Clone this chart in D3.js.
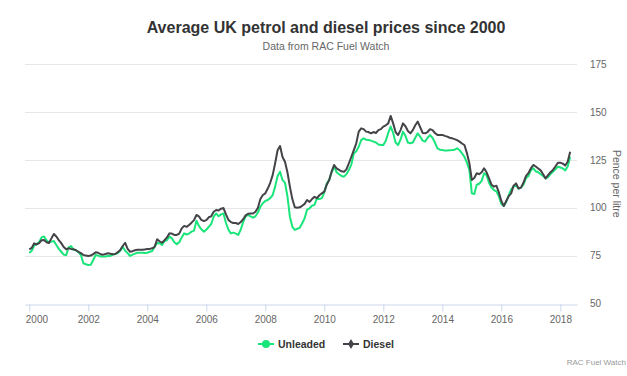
<!DOCTYPE html>
<html>
<head>
<meta charset="utf-8">
<script src="https://cdn.jsdelivr.net/npm/d3@7"></script>
<style>
  body { margin: 0; background: #fff; }
  svg { font-family: "Liberation Sans", Arial, Helvetica, sans-serif; display: block; }
</style>
</head>
<body>
<div id="chart"></div>
<script>
// Monthly averages, pence per litre, Jan 2000 - May 2018
var startYear = 2000;
var unleaded = [
  76.4, 77.5, 80.2, 81.0, 82.0, 84.5, 85.0, 83.0, 81.8, 82.3, 82.6, 80.5,
  78.5, 77.0, 75.5, 75.2, 79.3, 80.0, 78.0, 77.8, 76.8, 75.3, 71.0, 70.5,
  70.1, 70.2, 72.7, 75.3, 75.0, 74.5, 74.5, 74.5, 74.8, 74.8, 75.5, 75.8,
  76.3, 77.5, 79.6, 77.5, 76.3, 74.8, 75.5, 76.0, 76.5, 76.5, 76.5, 76.4,
  76.5, 77.0, 77.4, 79.6, 81.6, 81.5, 80.5, 82.6, 83.0, 84.9, 84.0, 82.0,
  81.0, 82.0, 84.5, 86.6, 86.0, 86.5, 87.5, 88.0, 93.2, 90.5, 88.7, 87.5,
  88.5, 90.0, 91.5, 95.3, 97.0, 95.5, 96.5, 97.0, 92.0, 88.5, 86.6, 87.0,
  86.5, 85.8, 88.5, 92.5, 95.5, 96.2, 95.5, 94.8, 95.5, 97.5, 100.5, 102.3,
  103.5, 104.0, 105.0, 106.6, 111.0, 116.5, 118.8, 114.5, 113.0, 106.0, 95.3, 90.0,
  88.4, 89.0, 89.5, 91.9, 94.5, 99.0, 99.7, 101.0, 101.5, 104.9, 104.5, 105.0,
  108.0, 112.7, 114.5, 118.5, 121.4, 118.5, 117.5, 116.5, 116.2, 117.5, 119.7, 122.5,
  128.3, 129.5, 131.8, 135.3, 136.2, 135.5, 135.3, 135.0, 134.5, 134.0, 133.0, 132.7,
  132.7, 135.0, 139.0, 142.3, 139.0, 134.0, 132.7, 135.5, 139.7, 137.5, 134.0, 133.6,
  134.0, 136.5, 138.8, 137.0, 135.0, 134.5, 136.5, 137.9, 136.5, 134.0, 131.0, 130.3,
  130.1, 129.8, 129.8, 130.0, 130.1, 130.3, 131.0, 130.0, 128.4, 126.5, 123.5, 119.7,
  107.5, 107.1, 112.0, 112.5, 114.0, 118.0, 117.0, 113.0, 110.5, 109.2, 108.5, 106.0,
  102.0, 100.9, 103.0, 106.5, 109.5, 111.0, 111.5, 110.0, 110.5, 112.0, 115.3, 116.5,
  119.5, 120.6, 119.0, 118.5, 117.5, 116.5, 115.3, 116.0, 117.5, 118.8, 120.0, 121.4,
  121.0, 120.5, 119.5, 121.5, 126.6
];
var diesel = [
  78.3, 79.0, 81.4, 80.8, 81.5, 83.0, 83.1, 82.0, 81.6, 84.0, 86.3, 85.0,
  83.1, 81.5, 79.5, 78.3, 78.8, 78.5, 78.3, 77.8, 77.0, 76.3, 75.3, 75.0,
  74.8, 75.0, 75.8, 76.7, 76.5, 75.7, 75.5, 75.8, 76.2, 76.0, 75.7, 75.8,
  76.8, 77.9, 80.0, 81.7, 78.5, 77.0, 77.3, 77.8, 78.0, 78.0, 78.0, 78.2,
  78.4, 78.5, 78.8, 79.6, 83.5, 82.5, 81.7, 83.0, 84.5, 86.6, 86.5, 85.8,
  85.8, 86.5, 89.2, 90.5, 90.0, 91.0, 92.2, 93.5, 96.2, 95.5, 93.6, 93.0,
  93.5, 95.0, 95.5, 97.9, 98.8, 98.5, 99.5, 99.8, 96.5, 93.6, 92.5, 92.0,
  92.0, 91.5, 92.5, 94.0, 96.0, 96.8, 97.0, 97.0, 97.9, 100.0, 104.5, 106.6,
  107.5, 110.0, 113.0, 117.0, 123.2, 130.0, 132.2, 126.5, 124.0, 118.5, 111.0, 104.5,
  100.2, 100.0, 100.2, 101.0, 102.0, 104.0, 103.0, 104.5, 105.7, 105.0, 106.5, 107.5,
  108.4, 112.0, 114.5, 119.0, 122.3, 120.5, 119.7, 119.0, 118.8, 120.0, 123.2, 126.6,
  130.0, 133.6, 139.7, 141.4, 141.0, 139.7, 139.5, 138.8, 139.5, 139.0, 140.5, 141.0,
  142.3, 143.0, 144.0, 147.9, 144.0, 139.5, 137.9, 140.5, 144.0, 142.5, 140.0, 138.8,
  140.5, 143.0, 144.9, 142.0, 139.0, 138.8, 139.5, 141.0, 140.5, 139.0, 138.0, 137.9,
  138.0, 137.5, 137.1, 136.5, 136.2, 135.8, 135.3, 134.5, 133.5, 132.7, 128.5, 123.2,
  114.5, 115.5, 118.0, 117.5, 118.5, 120.6, 118.5, 115.3, 112.0, 111.0, 111.5, 108.0,
  103.5, 100.9, 103.5, 106.0, 107.5, 111.5, 112.7, 110.0, 110.5, 113.0, 116.5, 118.0,
  120.5, 122.3, 121.5, 120.5, 119.5, 117.5, 115.3, 117.0, 118.5, 119.7, 121.5, 123.5,
  123.5, 123.0, 122.0, 124.0, 129.2
];
var yTicks = [50, 75, 100, 125, 150, 175];
var xTicks = [2000, 2002, 2004, 2006, 2008, 2010, 2012, 2014, 2016, 2018];

var W = 627, H = 376;
var plot = {left: 25, right: 577, top: 64, bottom: 303.5};

var svg = d3.select("#chart").append("svg")
  .attr("width", W).attr("height", H);

// decimal year of each monthly point
function monthYear(i) { return startYear + i / 12; }

var x = d3.scaleLinear()
  .domain([1999.855, 2018.565])
  .range([plot.left, plot.right]);
var y = d3.scaleLinear()
  .domain([50, 175])
  .range([plot.bottom, plot.top]);

// title + subtitle
svg.append("text")
  .attr("x", 326).attr("y", 33)
  .attr("text-anchor", "middle")
  .style("font-size", "16px").style("font-weight", "bold").style("fill", "#333")
  .text("Average UK petrol and diesel prices since 2000");
svg.append("text")
  .attr("x", 326).attr("y", 50)
  .attr("text-anchor", "middle")
  .style("font-size", "10.5px").style("fill", "#666")
  .text("Data from RAC Fuel Watch");

// grid lines
svg.append("g").selectAll("line")
  .data(yTicks.slice(1))
  .enter().append("line")
  .attr("x1", plot.left).attr("x2", plot.right)
  .attr("y1", function(d){ return Math.round(y(d)) + 0.5; })
  .attr("y2", function(d){ return Math.round(y(d)) + 0.5; })
  .style("stroke", "#e6e6e6").style("stroke-width", 1);

// y axis on the right, labels only
var yAxis = svg.append("g")
  .attr("transform", "translate(" + plot.right + ",0)")
  .call(d3.axisRight(y).tickValues(yTicks).tickSize(0).tickPadding(13));
yAxis.select(".domain").remove();
yAxis.selectAll("text")
  .style("font-size", "10px").style("fill", "#666")
  .style("font-family", "Liberation Sans, Arial, sans-serif");

svg.append("text")
  .attr("transform", "translate(613," + ((plot.top + plot.bottom) / 2) + ") rotate(90)")
  .attr("text-anchor", "middle")
  .style("font-size", "10.5px").style("fill", "#666")
  .text("Pence per litre");

// x axis
var xAxis = svg.append("g")
  .attr("transform", "translate(0," + (Math.round(plot.bottom) + 0.5) + ")")
  .call(d3.axisBottom(x).tickValues(xTicks).tickSize(7).tickSizeOuter(0)
    .tickPadding(4).tickFormat(d3.format("d")));
xAxis.select(".domain").style("stroke", "#ccd6eb");
xAxis.selectAll(".tick line").style("stroke", "#ccd6eb");
xAxis.selectAll("text")
  .style("font-size", "10px").style("fill", "#666")
  .style("font-family", "Liberation Sans, Arial, sans-serif");
// first label is pushed inside the chart like Highcharts does
xAxis.select(".tick text").attr("text-anchor", "start").attr("x", -4);

// lines
var line = d3.line()
  .x(function(d, i){ return x(monthYear(i)); })
  .y(function(d){ return y(d); });

var series = [
  {name: "Unleaded", values: unleaded, color: "#19e57a", symbol: d3.symbolCircle},
  {name: "Diesel", values: diesel, color: "#434348", symbol: d3.symbolDiamond}
];

svg.append("g").selectAll("path")
  .data(series)
  .enter().append("path")
  .attr("d", function(d){ return line(d.values); })
  .style("fill", "none")
  .style("stroke", function(d){ return d.color; })
  .style("stroke-width", 2)
  .style("stroke-linejoin", "round");

// legend
var legendX = [258, 343];
var legend = svg.append("g").selectAll("g")
  .data(series)
  .enter().append("g")
  .attr("transform", function(d, i){ return "translate(" + legendX[i] + ",344)"; });
legend.append("line")
  .attr("x1", 0).attr("x2", 16)
  .style("stroke", function(d){ return d.color; })
  .style("stroke-width", 2);
legend.append("path")
  .attr("transform", "translate(8,0)")
  .attr("d", function(d, i){ return d3.symbol().type(d.symbol).size(i === 0 ? 50 : 30)(); })
  .style("fill", function(d){ return d.color; });
legend.append("text")
  .attr("x", 20).attr("y", 4)
  .style("font-size", "10.5px").style("font-weight", "bold").style("fill", "#333")
  .text(function(d){ return d.name; });

// credits
svg.append("text")
  .attr("x", 626).attr("y", 365)
  .attr("text-anchor", "end")
  .style("font-size", "8px").style("fill", "#999")
  .text("RAC Fuel Watch");
</script>
</body>
</html>
